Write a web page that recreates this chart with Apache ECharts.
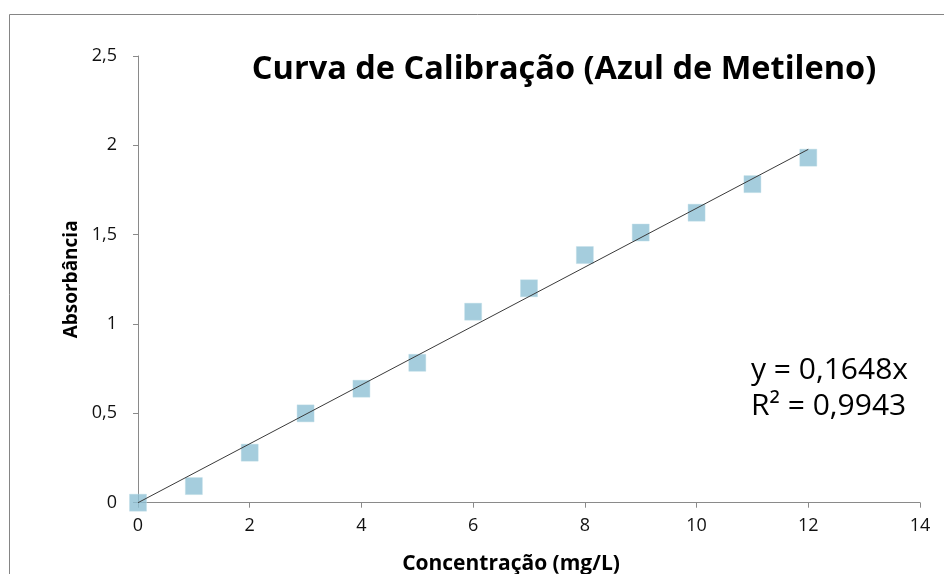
<!DOCTYPE html>
<html><head><meta charset="utf-8">
<script src="https://cdn.jsdelivr.net/npm/echarts@6/dist/echarts.min.js"></script>
<style>html,body{margin:0;padding:0;background:#fff}#c{width:944px;height:574px}</style>
</head><body><div id="c"></div>
<script>
const concentrations = [0, 1, 2, 3, 4, 5, 6, 7, 8, 9, 10, 11, 12];
const absorbances = [0, 0.093, 0.28, 0.50, 0.638, 0.783, 1.069, 1.20, 1.386, 1.512, 1.623, 1.783, 1.931];
const trendX = [0, 12];
const trendY = [0, 1.9776];
const titleText = 'Curva de Calibração (Azul de Metileno)';
const xAxisName = 'Concentração (mg/L)';
const yAxisName = 'Absorbância';
const equationLines = ['y = 0,1648x', 'R² = 0,9943'];

const FONT = '"Open Sans", "DejaVu Sans", sans-serif';
const chart = echarts.init(document.getElementById('c'), null, {renderer: 'canvas'});
const fmt = v => String(v).replace('.', ',');
chart.setOption({
  backgroundColor: '#fff',
  animation: false,
  graphic: [
    {type: 'rect', shape: {x: 9.5, y: 14.5, width: 1000, height: 700}, style: {fill: 'none', stroke: '#858585', lineWidth: 1}, z: -10},
    {type: 'text', x: 564, y: 70, style: {text: titleText, font: 'bold 32.5px ' + FONT, fill: '#000', align: 'center', verticalAlign: 'middle'}},
    {type: 'text', x: 751, y: 352, style: {text: equationLines.join('\n'), font: '30px ' + FONT, fill: '#000', lineHeight: 36}}
  ],
  grid: {left: 138, right: 24, top: 56, bottom: 71.3, containLabel: false, outerBoundsMode: 'none'},
  xAxis: {
    type: 'value', min: 0, max: 14, interval: 2,
    name: xAxisName, nameLocation: 'middle', nameGap: 51,
    nameTextStyle: {fontFamily: FONT, fontWeight: 'bold', fontSize: 21, color: '#000', padding: [0, 36, 0, 0]},
    axisLine: {lineStyle: {color: '#8a8a8a', width: 1}},
    axisTick: {show: true, length: 5, lineStyle: {color: '#8a8a8a'}},
    axisLabel: {fontFamily: FONT, fontSize: 18, color: '#111', margin: 14, formatter: fmt},
    splitLine: {show: false}
  },
  yAxis: {
    type: 'value', min: 0, max: 2.5, interval: 0.5,
    name: yAxisName, nameLocation: 'middle', nameGap: 55, nameRotate: 90,
    nameTextStyle: {fontFamily: FONT, fontWeight: 'bold', fontSize: 19, color: '#000'},
    axisLine: {show: true, lineStyle: {color: '#8a8a8a', width: 1}},
    axisTick: {show: true, length: 5, lineStyle: {color: '#8a8a8a'}},
    axisLabel: {fontFamily: FONT, fontSize: 18, color: '#111', margin: 21, formatter: fmt},
    splitLine: {show: false}
  },
  series: [
    {
      type: 'scatter', symbol: 'rect', symbolSize: 17,
      itemStyle: {color: '#8fc1d5', borderColor: '#bcdbe7', borderWidth: 0.5},
      data: concentrations.map((c, i) => [c, absorbances[i]]), z: 2
    },
    {
      type: 'line', symbol: 'none', silent: true,
      lineStyle: {color: '#3a3a3a', width: 1},
      data: trendX.map((x, i) => [x, trendY[i]]), z: 3
    }
  ]
});
</script></body></html>
